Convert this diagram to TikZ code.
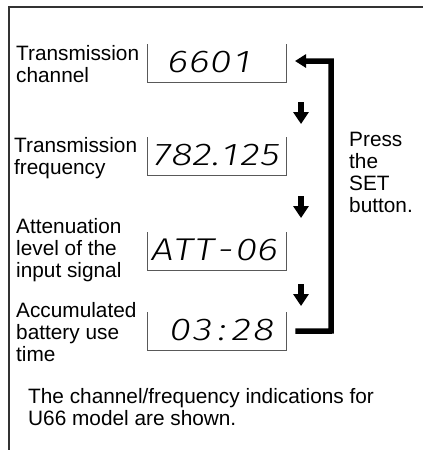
\documentclass[tikz,border=0pt]{standalone}
\usepackage{fontspec}
\setmainfont{Liberation Sans}
\newfontfamily\segfont{Fira Sans Light Italic}[FakeStretch=1.25]
\usetikzlibrary{arrows.meta}
\newcommand\sgc[2]{\makebox[#1pt]{#2}}
\begin{document}
\begin{tikzpicture}[x=1pt,y=-1pt,
  lbl/.style={anchor=base west, inner sep=0pt, font=\fontsize{20.8}{22}\selectfont},
  segtext/.style={anchor=base west, inner sep=0pt, font=\segfont\fontsize{31.5}{31.5}\selectfont},
  disp/.style={minimum width=139pt, minimum height=38pt, inner sep=0pt, anchor=north west},
  dispframe/.style={draw=black!65, line width=1pt},
  downarr/.style={line width=6pt, -{Triangle[width=15pt,length=12pt]}},
  looparr/.style={line width=5.5pt, line join=miter, -{Triangle[width=13pt,length=11pt]}},
  outer/.style={draw=black!80, line width=1.5pt}]
\useasboundingbox (0,0) rectangle (423,450);
% outer frame
\draw[outer] (9,450) -- (9,7) -- (423,7);
% displays
\node[disp] (d1) at (147,44) {};
\node[disp] (d2) at (147,137) {};
\node[disp] (d3) at (147,232) {};
\node[disp] (d4) at (147,312) {};
\foreach \d in {d1,d2,d3,d4}
  \draw[dispframe] (\d.north west) -- (\d.south west) -- (\d.south east) -- (\d.north east);
% display contents
\node[segtext] (t1) at (167,72) {\sgc{21.5}{6}\sgc{21.5}{6}\sgc{21.5}{0}\sgc{21.5}{1}};
\node[segtext] (t2) at (152,165) {\sgc{20}{7}\sgc{20}{8}\sgc{20}{2}\sgc{8}{.}\sgc{20}{1}\sgc{20}{2}\sgc{20}{5}};
\node[segtext] (t3) at (152,260) {\sgc{21}{A}\sgc{21}{T}\sgc{21}{T}\sgc{21}{-}\sgc{21}{0}\sgc{21}{6}};
\node[segtext] (t4) at (169,340) {\sgc{22.5}{0}\sgc{22.5}{3}\sgc{16}{:}\sgc{22.5}{2}\sgc{22.5}{8}};
% labels
\node[lbl] (l1a) at (16,60) {Transmission};
\node[lbl] (l1b) at (16,82) {channel};
\node[lbl] (l2a) at (14,152) {Transmission};
\node[lbl] (l2b) at (14,174) {frequency};
\node[lbl] (l3a) at (16,233) {Attenuation};
\node[lbl] (l3b) at (16,255) {level of the};
\node[lbl] (l3c) at (16,277) {input signal};
\node[lbl] (l4a) at (16,317) {Accumulated};
\node[lbl] (l4b) at (16,339) {battery use};
\node[lbl] (l4c) at (16,361) {time};
\node[lbl] (p1) at (349,146) {Press};
\node[lbl] (p2) at (349,168) {the};
\node[lbl] (p3) at (349,190) {SET};
\node[lbl] (p4) at (349,212) {button.};
\node[lbl] (n1) at (28,403) {The channel/frequency indications for};
\node[lbl] (n2) at (28,425) {U66 model are shown.};
% down arrows
\coordinate (a1s) at (301,102); \coordinate (a1e) at (301,124);
\coordinate (a2s) at (301,196); \coordinate (a2e) at (301,218);
\coordinate (a3s) at (301,284); \coordinate (a3e) at (301,306);
\draw[downarr] (a1s) -- (a1e);
\draw[downarr] (a2s) -- (a2e);
\draw[downarr] (a3s) -- (a3e);
% loop arrow
\coordinate (ls) at ([xshift=9pt]d4.east);
\coordinate (lb) at (331,331);
\coordinate (lt) at (331,61);
\coordinate (le) at (295,61);
\draw[looparr] (ls) -- (lb) -- (lt) -- (le);
\end{tikzpicture}
\end{document}
